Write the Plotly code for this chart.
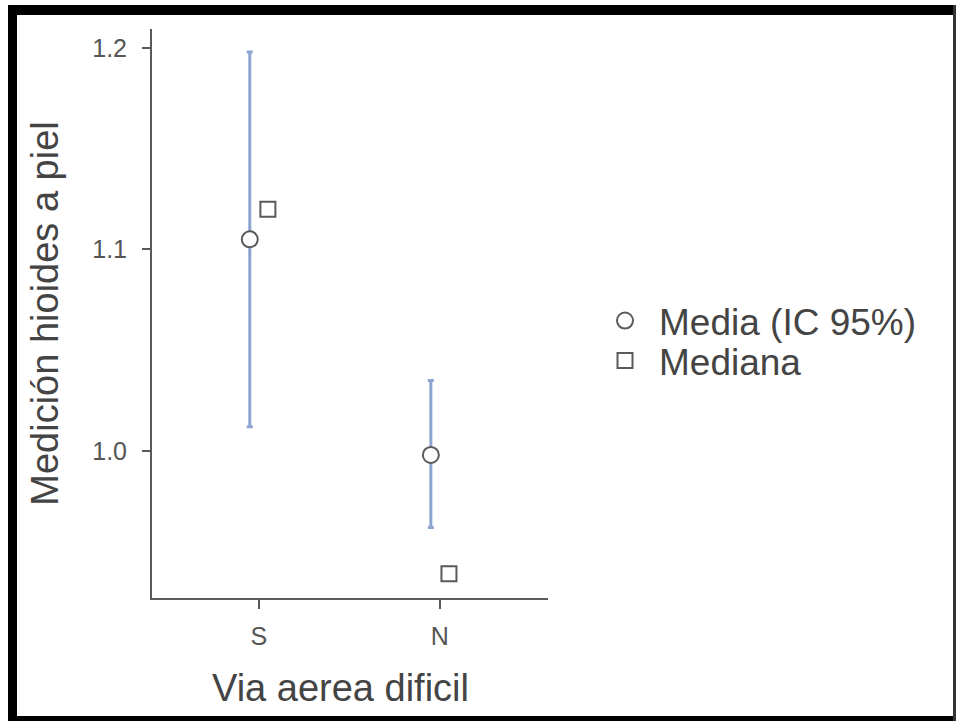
import plotly.graph_objects as go

categories = ["S", "N"]
mean_vals = [1.105, 0.998]
ci_upper = [1.198, 1.035]
ci_lower = [1.012, 0.962]
median_vals = [1.12, 0.939]
y_ticks = [1.0, 1.1, 1.2]

W, H = 956, 721
L, R, T, B = 152, 548, 29, 598
dodge = 0.05

xpos = list(range(len(categories)))

fig = go.Figure()
fig.add_trace(go.Scatter(
    x=[p - dodge for p in xpos], y=mean_vals, mode="markers", name="Media (IC 95%)",
    legend="legend",
    marker=dict(symbol="circle", size=16, color="white", line=dict(color="#5a5a5a", width=2)),
    error_y=dict(type="data", symmetric=False,
                 array=[u - m for u, m in zip(ci_upper, mean_vals)],
                 arrayminus=[m - l for m, l in zip(mean_vals, ci_lower)],
                 color="#8ca5cf", thickness=3, width=3),
))
fig.add_trace(go.Scatter(
    x=[p + dodge for p in xpos], y=median_vals, mode="markers", name="Mediana",
    legend="legend2",
    marker=dict(symbol="square", size=15, color="white", line=dict(color="#5a5a5a", width=2)),
))

def px2x(px):
    return (px - L) / (R - L)

def py2y(py):
    return (B - py) / (B - T)

shapes = [
    dict(type="rect", xref="paper", yref="paper", x0=px2x(8), x1=px2x(17), y0=py2y(720), y1=py2y(5),
         fillcolor="black", line=dict(width=0), layer="above"),
    dict(type="rect", xref="paper", yref="paper", x0=px2x(8), x1=px2x(956), y0=py2y(15), y1=py2y(5),
         fillcolor="black", line=dict(width=0), layer="above"),
    dict(type="rect", xref="paper", yref="paper", x0=px2x(8), x1=px2x(956), y0=py2y(721), y1=py2y(716),
         fillcolor="black", line=dict(width=0), layer="above"),
    dict(type="rect", xref="paper", yref="paper", x0=px2x(953), x1=px2x(956), y0=py2y(721), y1=py2y(5),
         fillcolor="#333333", line=dict(width=0), layer="above"),
]

legend_common = dict(xanchor="left", yanchor="middle", font=dict(size=37, color="#444444"),
                     itemsizing="trace", itemwidth=58, bgcolor="rgba(0,0,0,0)")

fig.update_layout(
    width=W, height=H,
    margin=dict(l=L, r=W - R, t=T, b=H - B, autoexpand=False),
    paper_bgcolor="white", plot_bgcolor="white",
    font=dict(family="Liberation Sans, Arial, sans-serif", color="#444444"),
    showlegend=True,
    legend=dict(x=px2x(591), y=py2y(321), **legend_common),
    legend2=dict(x=px2x(591), y=py2y(361), **legend_common),
    xaxis=dict(range=[-0.59, 1.597], tickvals=xpos, ticktext=categories,
               showgrid=False, zeroline=False, showline=True, linecolor="#5a5a5a", linewidth=2,
               ticks="outside", ticklen=9, tickwidth=2, tickcolor="#5a5a5a",
               ticklabelstandoff=6,
               tickfont=dict(size=25, color="#555555")),
    yaxis=dict(range=[0.927, 1.2094], tickvals=y_ticks, tickformat=".1f",
               showgrid=False, zeroline=False, showline=True, linecolor="#5a5a5a", linewidth=2,
               ticks="outside", ticklen=8, tickwidth=2, tickcolor="#5a5a5a",
               ticklabelstandoff=10,
               tickfont=dict(size=25, color="#555555"),
               title=dict(text="Medición hioides a piel", font=dict(size=38, color="#444444"), standoff=22)),
    shapes=shapes,
    annotations=[dict(text="Via aerea dificil", xref="paper", yref="paper",
                      x=px2x(340), y=py2y(688), xanchor="center", yanchor="middle",
                      showarrow=False, font=dict(size=38, color="#444444"))],
)

fig.write_html("out.html", config={"displayModeBar": False},
               post_script="document.body.style.margin='0';document.body.style.overflow='hidden';")
